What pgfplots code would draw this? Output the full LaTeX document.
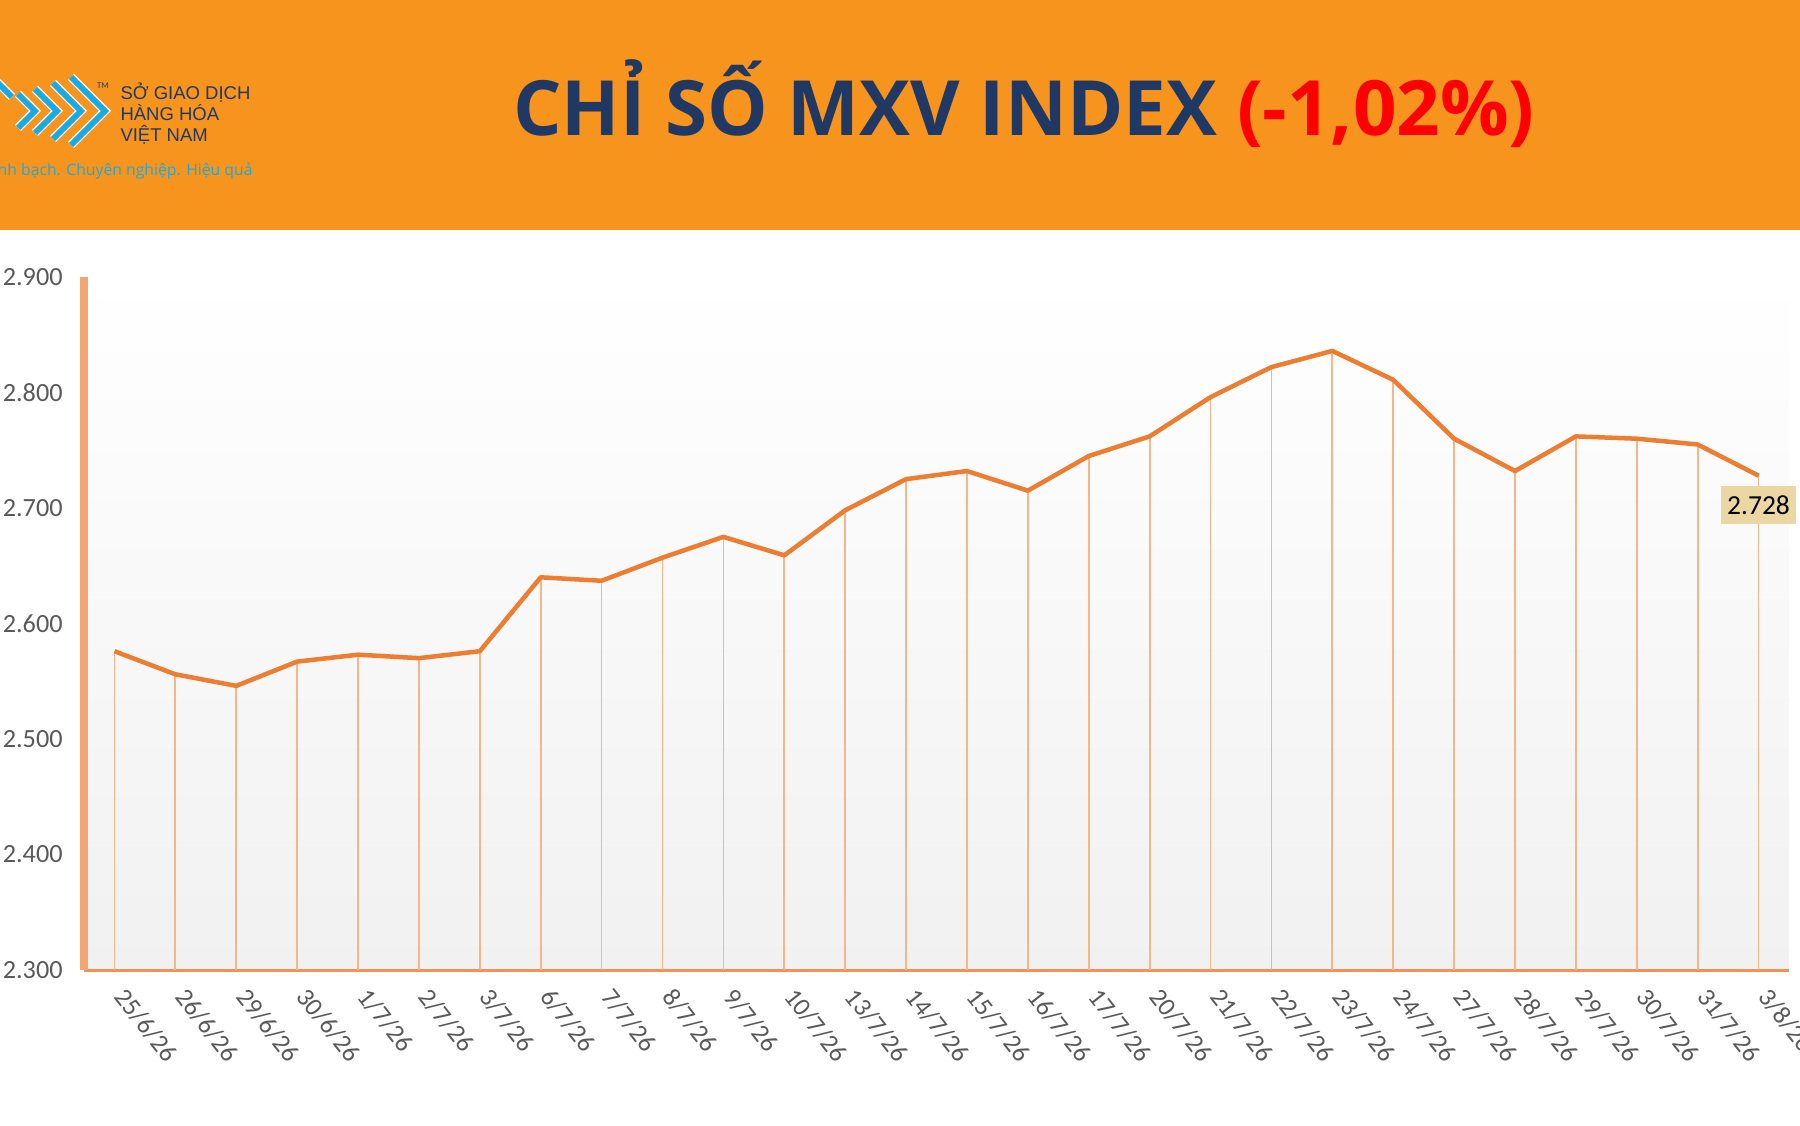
\documentclass[border=0pt]{standalone}
\usepackage{fontspec}
\setmainfont{Carlito}
\newfontfamily\titlefont{Open Sans}
\newfontfamily\tagfont{Open Sans}
\newfontfamily\logofont{Liberation Sans}
\usepackage{pgfplots}
\pgfplotsset{compat=1.18}
\definecolor{hdr}{HTML}{F7941D}
\definecolor{navy}{HTML}{1F3864}
\definecolor{lineor}{HTML}{ED7D31}
\definecolor{dropor}{HTML}{F7B58A}
\definecolor{axor}{HTML}{F2A673}
\definecolor{axbot}{HTML}{EE9255}
\definecolor{tickgray}{HTML}{595959}
\definecolor{boxtan}{HTML}{EAD7A4}
\definecolor{logocyan}{HTML}{1AAAE0}
\definecolor{bggray}{HTML}{F1F1F1}
\definecolor{titlered}{HTML}{FF0000}
\pgfplotstableread{
x y
0 2576
1 2556
2 2546
3 2567
4 2573
5 2570
6 2576
7 2640
8 2637
9 2657
10 2675
11 2659
12 2698
13 2725
14 2732
15 2715
16 2745
17 2762
18 2796
19 2822
20 2836
21 2811
22 2760
23 2732
24 2762
25 2760
26 2755
27 2728
}\mxv
\begin{document}
\begin{tikzpicture}
\useasboundingbox (0,0) rectangle (720pt,450pt);
% header band
\fill[hdr] (0,358pt) rectangle (720pt,450pt);
\begin{scope}[x=0.4pt,y=-0.4pt,shift={(0pt,450pt)}]
  \clip (0,0) rectangle (1800,230);
  % logo chevrons
  \foreach \a/\h in {105/34,81/28,57/22}{
    \draw[white,line width=3.4pt,line join=miter] (\a-\h,111-\h) -- (\a,111) -- (\a-\h,111+\h);
    \draw[logocyan,line width=2.3pt,line join=miter] (\a-\h,111-\h) -- (\a,111) -- (\a-\h,111+\h);
  }
  \draw[white,line width=3.4pt] (18,94) -- (35,111) -- (18,128);
  \draw[logocyan,line width=2.3pt] (18,94) -- (35,111) -- (18,128);
  \draw[white,line width=3.4pt] (-5,80) -- (12,97);
  \draw[logocyan,line width=2.3pt] (-5,80) -- (12,97);
  \node[font=\fontsize{3.5}{4}\selectfont,text=navy] at (103,86) {TM};
  \node[font=\logofont\fontsize{7.4}{8}\selectfont,text=navy,anchor=base west,inner sep=0pt] at (120,100) {SỞ GIAO DỊCH};
  \node[font=\logofont\fontsize{7.4}{8}\selectfont,text=navy,anchor=base west,inner sep=0pt] at (120,121) {HÀNG HÓA};
  \node[font=\logofont\fontsize{7.4}{8}\selectfont,text=navy,anchor=base west,inner sep=0pt] at (120,142) {VIỆT NAM};
  \node[font=\tagfont\fontsize{6.3}{8}\selectfont,text=logocyan,anchor=base east,inner sep=0pt] at (253,176) {Minh bạch. Chuyên nghiệp. Hiệu quả};
  \node[font=\titlefont\bfseries\fontsize{30.5}{36}\selectfont,text=navy] at (1024,104) {CHỈ SỐ MXV INDEX \textcolor{titlered}{(-1,02\%)}};
\end{scope}
\begin{axis}[
  at={(33.6pt,62pt)}, anchor=south west,
  scale only axis, width=682pt, height=277.2pt,
  xmin=-0.5, xmax=27.5, ymin=2300, ymax=2900,
  axis lines*=left,
  x axis line style={color=axbot, line width=1.2pt},
  y axis line style={color=axor, line width=3pt},
  xtick={0,...,27},
  xticklabels={25/6/26,26/6/26,29/6/26,30/6/26,1/7/26,2/7/26,3/7/26,6/7/26,7/7/26,8/7/26,9/7/26,10/7/26,13/7/26,14/7/26,15/7/26,16/7/26,17/7/26,20/7/26,21/7/26,22/7/26,23/7/26,24/7/26,27/7/26,28/7/26,29/7/26,30/7/26,31/7/26,3/8/26},
  ytick={2300,2400,2500,2600,2700,2800,2900},
  yticklabels={2.300,2.400,2.500,2.600,2.700,2.800,2.900},
  major tick length=0pt,
  tick label style={color=tickgray},
  yticklabel style={font=\fontsize{10.5}{12}\selectfont, anchor=east, xshift=-5pt},
  xticklabel style={font=\fontsize{10.3}{12}\selectfont, rotate=-52, anchor=west},
  xticklabel shift=6pt,
  axis background/.style={shade, top color=white, bottom color=bggray},
  clip mode=individual,
]
\addplot[ycomb, dropor, line width=0.7pt, no marks] table[x=x,y=y] {\mxv};
\addplot[lineor, line width=1.8pt, no marks, line join=round] table[x=x,y=y] {\mxv};
\node[fill=boxtan, text=black, font=\fontsize{11}{13}\selectfont, inner xsep=2.5pt, minimum height=15pt] at ([yshift=-11.7pt]axis cs:27,2728) {2.728};
\end{axis}
\end{tikzpicture}
\end{document}
